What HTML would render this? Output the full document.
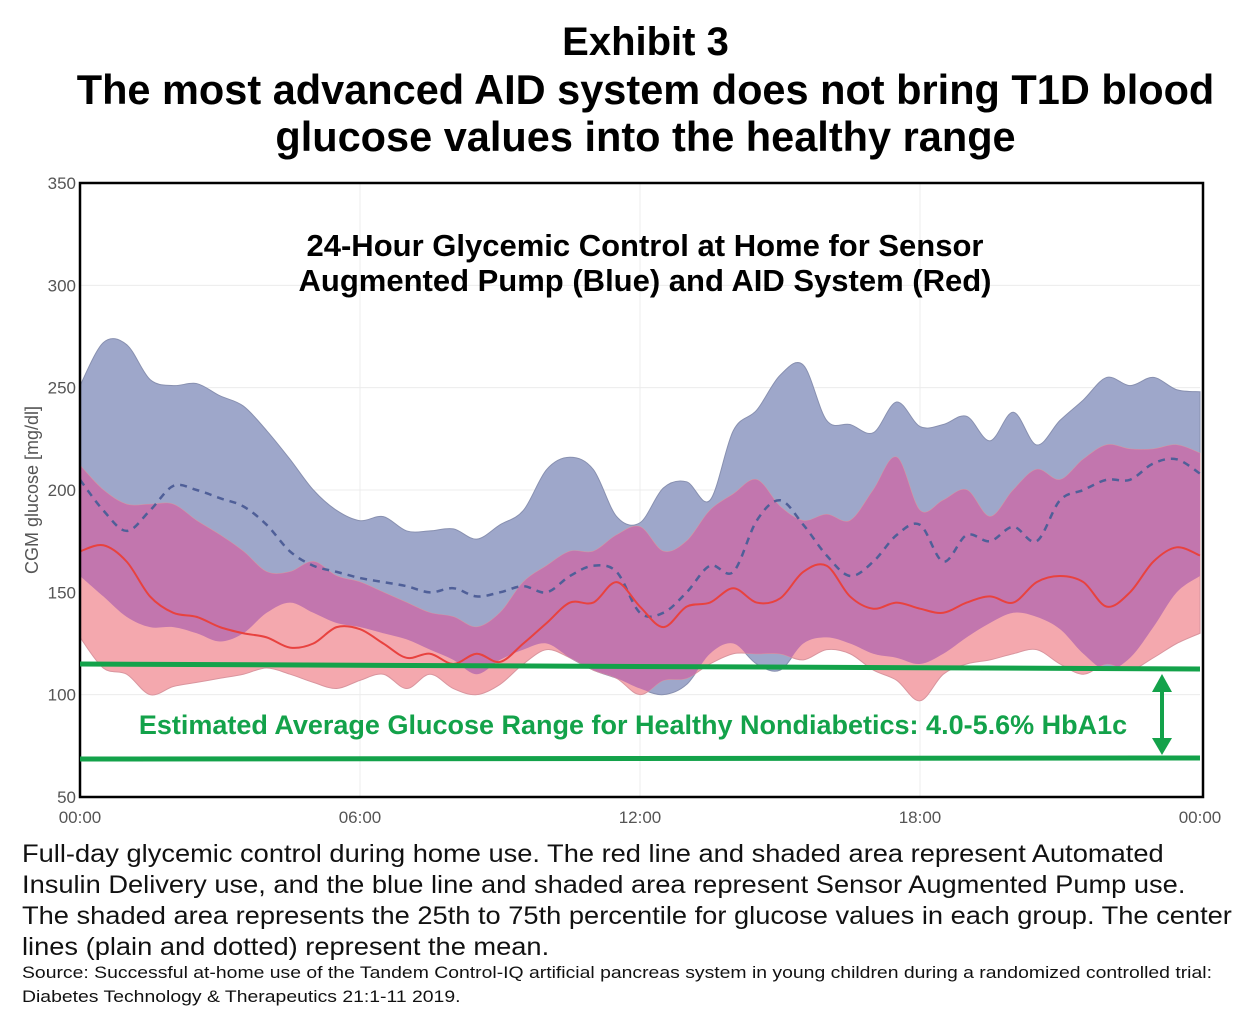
<!DOCTYPE html>
<html><head><meta charset="utf-8"><style>
html,body{margin:0;padding:0;background:#fff;width:1249px;height:1025px;overflow:hidden;font-family:"Liberation Sans",Arial,sans-serif;}
.t{position:absolute;left:0;width:1249px;text-align:center;font-weight:bold;color:#000;}
.cap{position:absolute;left:22px;font-size:25px;line-height:31px;color:#111;white-space:nowrap;transform-origin:0 0;transform:scaleX(1.09);}
.src{position:absolute;left:22px;font-size:17px;line-height:24px;color:#111;white-space:nowrap;transform-origin:0 0;transform:scaleX(1.14);}
</style></head><body>
<div class="t" style="top:20px;font-size:40px;left:21px;">Exhibit 3</div>
<div class="t" style="top:66px;font-size:41.5px;line-height:47px;left:21px;">The most advanced AID system does not bring T1D blood<br>glucose values into the healthy range</div>
<svg id="chart" width="1249" height="1025" style="position:absolute;left:0;top:0" xmlns="http://www.w3.org/2000/svg"></svg>
<div class="cap" style="top:839px;">Full-day glycemic control during home use. The red line and shaded area represent Automated<br>Insulin Delivery use, and the blue line and shaded area represent Sensor Augmented Pump use.<br>The shaded area represents the 25th to 75th percentile for glucose values in each group. The center<br>lines (plain and dotted) represent the mean.</div>
<div class="src" style="top:961px;">Source: Successful at-home use of the Tandem Control-IQ artificial pancreas system in young children during a randomized controlled trial:<br>Diabetes Technology &amp; Therapeutics 21:1-11 2019.</div>
<script>
const hours=[0,0.5,1,1.5,2,2.5,3,3.5,4,4.5,5,5.5,6,6.5,7,7.5,8,8.5,9,9.5,10,10.5,11,11.5,12,12.5,13,13.5,14,14.5,15,15.5,16,16.5,17,17.5,18,18.5,19,19.5,20,20.5,21,21.5,22,22.5,23,23.5,24];
const blueUpper=[251,272,271,254,251,252,246,241,229,215,200,190,185,187,180,180,181,176,183,190,210,216,210,187,184,201,204,195,229,239,256,261,234,232,228,243,231,232,236,224,238,222,234,244,255,251,255,249,248];
const blueLower=[158,148,138,133,133,130,126,130,140,145,140,135,133,130,127,122,117,110,117,122,125,118,112,108,103,100,105,120,125,115,112,125,128,125,120,118,115,120,128,135,140,138,132,120,112,118,133,150,158];
const redUpper=[212,200,193,193,193,185,178,170,160,160,165,158,155,150,145,140,138,133,140,155,163,170,170,178,182,170,175,190,198,205,192,185,188,185,200,216,190,195,200,187,200,210,205,215,222,220,220,222,218];
const redLower=[128,113,110,100,104,106,108,110,113,110,106,103,107,110,103,110,103,100,105,115,122,118,112,108,100,107,108,115,120,120,120,117,122,120,112,107,97,110,115,117,120,122,115,110,115,112,118,125,130];
const blueMean=[205,190,180,190,202,200,196,192,183,170,163,160,157,155,153,150,152,148,150,153,150,158,163,160,140,140,150,163,160,185,195,183,168,158,165,178,183,165,178,175,182,175,195,200,205,205,213,215,208];
const redMean=[170,173,165,148,140,138,133,130,128,123,125,133,132,125,118,120,115,120,116,125,135,145,145,155,143,133,143,145,152,145,147,160,163,148,142,145,142,140,145,148,145,155,158,155,143,150,165,172,168];
const yTicks=[50,100,150,200,250,300,350];
const xTicks=["00:00","06:00","12:00","18:00","00:00"];

const X0=80,X1=1200,Y350=183,Y50=797;
const sx=h=>X0+(X1-X0)*h/24;
const sy=v=>Y50-(v-50)*(Y50-Y350)/300;
const NS="http://www.w3.org/2000/svg";
const svg=document.getElementById('chart');
function mk(tag,attrs,parent){const e=document.createElementNS(NS,tag);for(const k in attrs)e.setAttribute(k,attrs[k]);(parent||svg).appendChild(e);return e;}
function pts(arr){return arr.map((v,i)=>[sx(hours[i]),sy(v)]);}
function smooth(p,move){let d=move?`M${p[0][0]},${p[0][1]}`:`L${p[0][0]},${p[0][1]}`;
 for(let i=0;i<p.length-1;i++){const p0=p[Math.max(i-1,0)],p1=p[i],p2=p[i+1],p3=p[Math.min(i+2,p.length-1)];
  const c1=[p1[0]+(p2[0]-p0[0])/6,p1[1]+(p2[1]-p0[1])/6],c2=[p2[0]-(p3[0]-p1[0])/6,p2[1]-(p3[1]-p1[1])/6];
  d+=`C${c1[0]},${c1[1]} ${c2[0]},${c2[1]} ${p2[0]},${p2[1]}`;}return d;}
function band(up,lo){return smooth(pts(up),true)+smooth(pts(lo).reverse(),false)+'Z';}

yTicks.forEach(v=>{const g=mk('line',{x1:X0,x2:X1,y1:sy(v),y2:sy(v),stroke:'#ececec','stroke-width':1});

const t=mk('text',{x:76,y:sy(v)+6,'text-anchor':'end','font-size':17,fill:'#555','font-family':'Liberation Sans, sans-serif'});t.textContent=v;
});
xTicks.forEach((s,i)=>{const x=sx(i*6);
if(i>0&&i<4){const g=mk('line',{x1:x,x2:x,y1:Y350,y2:Y50,stroke:'#ececec','stroke-width':1});}
const t=mk('text',{x:x,y:823,'text-anchor':'middle','font-size':17,fill:'#555','font-family':'Liberation Sans, sans-serif'});t.textContent=s;
});

const defs=mk('defs',{});
const cp=mk('clipPath',{id:'blueclip'},defs);
mk('path',{d:band(blueUpper,blueLower)},cp);
const bb=mk('path',{d:band(blueUpper,blueLower),fill:'#9ea7ca',stroke:'#8890b0','stroke-width':1});

const rb=mk('path',{d:band(redUpper,redLower),fill:'#f4a8ae',stroke:'#d9959e','stroke-width':1});

const ov=mk('path',{d:band(redUpper,redLower),fill:'#c276ae','clip-path':'url(#blueclip)'});

const bm=mk('path',{d:smooth(pts(blueMean),true),fill:'none',stroke:'#4f5f98','stroke-width':2.5,'stroke-dasharray':'7,6'});

const rm=mk('path',{d:smooth(pts(redMean),true),fill:'none',stroke:'#e8423f','stroke-width':2});


const fr=mk('rect',{x:X0,y:Y350,width:X1+3-X0,height:Y50-Y350,fill:'none',stroke:'#000','stroke-width':2.5});

const yl=mk('text',{x:38,y:490,transform:'rotate(-90 38 490)','text-anchor':'middle','font-size':18,fill:'#555','font-family':'Liberation Sans, sans-serif'});yl.textContent='CGM glucose [mg/dl]';


['24-Hour Glycemic Control at Home for Sensor','Augmented Pump (Blue) and AID System (Red)'].forEach((s,i)=>{
const t=mk('text',{x:645,y:256+i*35,'text-anchor':'middle','font-size':31,'font-weight':'bold',fill:'#000','font-family':'Liberation Sans, sans-serif'});t.textContent=s;
});

const g1=mk('line',{x1:X0,x2:X1,y1:664,y2:669,stroke:'#13a24a','stroke-width':5});

const g2=mk('line',{x1:X0,x2:X1,y1:759,y2:758,stroke:'#13a24a','stroke-width':5});

const ar=mk('g',{fill:'#13a24a'});
mk('line',{x1:1162,x2:1162,y1:688,y2:742,stroke:'#13a24a','stroke-width':4},ar);
mk('polygon',{points:'1162,674 1152,692 1172,692'},ar);
mk('polygon',{points:'1162,755 1152,738 1172,738'},ar);
const gt=mk('text',{x:633,y:734,'text-anchor':'middle','font-size':27,'font-weight':'bold',fill:'#13a24a','font-family':'Liberation Sans, sans-serif'});
gt.textContent='Estimated Average Glucose Range for Healthy Nondiabetics: 4.0-5.6% HbA1c';

</script>
</body></html>
